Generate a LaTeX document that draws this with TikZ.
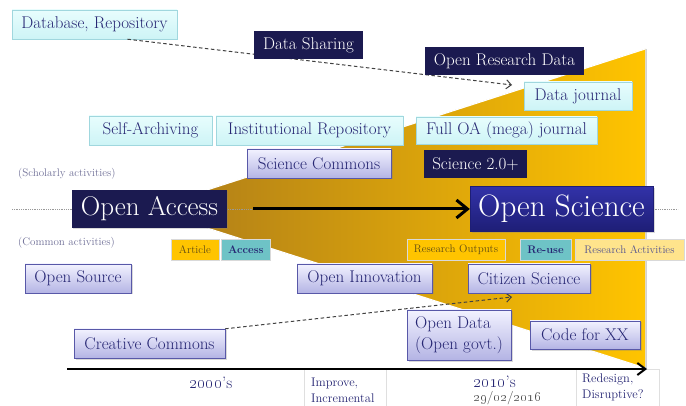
\documentclass[tikz,border=0pt]{standalone}
\usepackage{xcolor}
\usepackage{tikz}
\usetikzlibrary{shapes,arrows.meta,positioning,shadows,calc}

\definecolor{inkblue}{RGB}{38,38,115}
\definecolor{navyfill}{RGB}{27,26,80}
\definecolor{cyantop}{RGB}{232,253,253}
\definecolor{cyanbot}{RGB}{205,244,246}
\definecolor{cyanedge}{RGB}{160,215,222}
\definecolor{lavtop}{RGB}{242,242,255}
\definecolor{lavbot}{RGB}{180,180,228}
\definecolor{lavedge}{RGB}{88,88,168}
\definecolor{ostop}{RGB}{50,50,168}
\definecolor{osbot}{RGB}{30,30,118}
\definecolor{golddark}{RGB}{178,128,24}
\definecolor{goldlight}{RGB}{255,196,0}
\definecolor{tealtag}{RGB}{110,195,198}
\definecolor{paletag}{RGB}{255,228,140}
\definecolor{olivetext}{RGB}{95,75,20}
\definecolor{greytext}{RGB}{110,110,150}

\begin{document}
\begin{tikzpicture}[
    x=1pt, y=-1pt,
    boxfont/.style={font=\fontsize{17}{19}\selectfont},
    cyanbox/.style={rectangle, draw=cyanedge, top color=cyantop, bottom color=cyanbot, text=inkblue, minimum height=29pt, inner sep=1pt, boxfont, drop shadow={opacity=0.2, shadow xshift=1pt, shadow yshift=-1.5pt}},
    navybox/.style={rectangle, fill=navyfill, text=white, minimum height=28pt, inner sep=1pt, boxfont},
    lavbox/.style={rectangle, draw=lavedge, top color=lavtop, bottom color=lavbot, text=inkblue, minimum height=29pt, inner sep=1pt, boxfont, drop shadow={opacity=0.3, shadow xshift=1.5pt, shadow yshift=-1.5pt}},
    tagbox/.style={rectangle, draw=gray!30, minimum height=21pt, inner sep=1pt, font=\fontsize{11}{12}\selectfont, drop shadow={opacity=0.2, shadow xshift=1pt, shadow yshift=-1pt}},
    remark/.style={text=greytext, font=\fontsize{11}{12}\selectfont, anchor=west, inner sep=0pt},
    period/.style={text=inkblue, inner sep=0pt, align=left, anchor=west, font=\fontsize{12.5}{16}\selectfont},
    hintline/.style={dashed, dash pattern=on 3.5pt off 2.5pt, black!75, line width=1pt, -{Straight Barb[length=5pt,width=9pt]}}
]
\useasboundingbox (0,0) rectangle (686,406);

% funnel
\fill[left color=golddark, right color=goldlight] (190,195.4) -- (645,49) -- (645,368) -- (190,222.6) -- cycle;
\draw[white, line width=1.2pt] (190,195.4) -- (645,49) (190,222.6) -- (645,368);
\draw[gray!35, line width=0.8pt] (646,49) -- (646,368);

% middle line
\coordinate (midL) at (12,209);
\coordinate (midR) at (678,209);
\draw[densely dotted, gray!80, line width=0.8pt] (midL) -- (midR);

% time axis and table lines
\coordinate (axL) at (67,369);
\coordinate (axR) at (647,369);
\draw[gray!25, line width=0.6pt] (304,370) -- (304,406) (386,370) -- (386,406)
    (576,406) -- (576,369) -- (659,369) -- (659,406);
\draw[line width=2pt, -{Straight Barb[length=8pt,width=12pt]}] (axL) -- (axR);

% hint arrows
\coordinate (djtip) at (512,85);
\coordinate (cstip) at (512,297);
\node[cyanbox, minimum width=165pt] (dbrepo) at (94.5,24.5) {Database, Repository};
\draw[hintline] ($(dbrepo.south)+(33,0)$) -- (djtip);
\node[lavbox, minimum width=151pt] (ccommons) at (149.5,343.5) {Creative Commons};
\draw[hintline] (ccommons.north east) -- (cstip);

% scholarly side
\node[navybox, minimum width=109pt] (datashare) at (308.5,45) {Data Sharing};
\node[navybox, minimum width=159pt] (ordata) at (504.5,61) {Open Research Data};
\node[cyanbox, minimum width=108pt, minimum height=28pt] (datajournal) at (578,96) {Data journal};
\node[cyanbox, minimum width=123pt] (selfarch) at (150.5,130.5) {Self-Archiving};
\node[cyanbox, minimum width=187pt] (instrepo) at (309.5,130.5) {Institutional Repository};
\node[cyanbox, minimum width=181pt, minimum height=27pt] (fulloa) at (506.5,130.5) {Full OA (mega) journal};
\node[lavbox, minimum width=144pt] (scicommons) at (319,163.5) {Science Commons};
\node[navybox, minimum width=103pt] (science20) at (475.5,164) {Science 2.0+};
\node[remark] (scholarly) at (18,174) {(Scholarly activities)};

% main nodes
\node[rectangle, fill=navyfill, text=white, minimum width=155pt, minimum height=38pt, inner sep=0pt,
    font=\fontsize{27}{30}\selectfont, drop shadow={opacity=0.3, shadow xshift=1pt, shadow yshift=-1.5pt}] (oa) at (149.5,209) {Open Access};
\node[rectangle, draw=osbot, top color=ostop, bottom color=osbot, text=white, minimum width=183pt, minimum height=45pt, inner sep=0pt,
    font=\fontsize{31}{34}\selectfont, drop shadow={opacity=0.3, shadow xshift=1.5pt, shadow yshift=-1.5pt}] (os) at (561.5,209) {Open Science};
\draw[line width=3pt, shorten <=26pt, -{Straight Barb[length=11pt,width=18pt]}] (oa) -- (os);

% tags
\node[tagbox, fill=goldlight, text=olivetext, minimum width=48pt] (article) at (195,249.5) {Article};
\node[tagbox, fill=tealtag, text=inkblue, minimum width=49pt, right=2pt of article, font=\fontsize{11}{12}\selectfont\bfseries] (access) {Access};
\node[tagbox, fill=goldlight, text=olivetext, minimum width=98pt] (resout) at (456,249.5) {Research Outputs};
\node[tagbox, fill=tealtag, text=inkblue, minimum width=51pt, font=\fontsize{11}{12}\selectfont\bfseries] (reuse) at (545.5,249.5) {Re-use};
\node[tagbox, fill=paletag, text=inkblue!80, minimum width=109pt] (resact) at (629.5,249.5) {Research Activities};

% common side
\node[remark] (common) at (18,243) {(Common activities)};
\node[lavbox, minimum width=106pt] (opensource) at (78,278.5) {Open Source};
\node[lavbox, minimum width=135pt] (openinnov) at (364.5,278.5) {Open Innovation};
\node[lavbox, minimum width=122pt] (citizen) at (529,278.5) {Citizen Science};
\node[lavbox, minimum width=104pt, minimum height=50pt, align=left, font=\fontsize{17}{21}\selectfont] (opendata) at (459,335) {Open Data\\(Open govt.)};
\node[lavbox, minimum width=110pt, minimum height=28pt] (codexx) at (585,335) {Code for XX};

% periods
\node[period, anchor=center, font=\fontsize{16.5}{18}\selectfont] (p2000) at (211,383) {\oldstylenums{2000}'s};
\node[period] (improve) at (311,390) {Improve,\\Incremental};
\node[period, font=\fontsize{16.5}{18}\selectfont] (p2010) at (473,382) {\oldstylenums{2010}'s};
\node[period, font=\fontsize{13.5}{15}\selectfont, text=black!70] (today) at (473,398) {\oldstylenums{29}/\oldstylenums{02}/\oldstylenums{2016}};
\node[period] (redesign) at (582,387) {Redesign,\\Disruptive?};
\end{tikzpicture}
\end{document}
